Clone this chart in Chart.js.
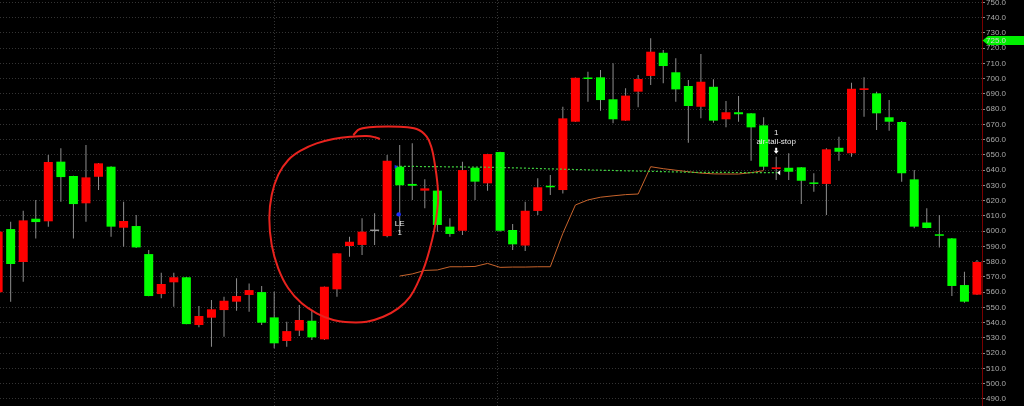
<!DOCTYPE html>
<html>
<head>
<meta charset="utf-8">
<script src="https://cdn.jsdelivr.net/npm/chart.js@4.4.1/dist/chart.umd.min.js"></script>
<style>
  html, body { margin: 0; padding: 0; background: #000; }
</style>
</head>
<body>
<canvas id="priceChart" width="1024" height="406"></canvas>
<script>
// bar data, one entry per candle (index 0 is cut by the left edge)
const opens = [560, 601.4, 579.8, 608.2, 606.5, 645.6, 636.2, 618.3, 635.7, 642.3,
  602.3, 603.4, 585.0, 558.8, 566.5, 569.8, 538.5, 543.3, 548.3, 553.8,
  558.2, 560.1, 543.5, 528.0, 534.8, 541.3, 529.1, 561.9, 590.3, 591.0,
  600.1, 596.8, 642.3, 631.0, 626.6, 626.6, 603.0, 600.3, 641.6, 631.4,
  651.9, 600.8, 590.6, 613.3, 629.8, 627.0, 671.8, 700.6, 700.9, 686.5,
  672.5, 691.5, 701.8, 717.0, 704.2, 695.2, 681.6, 694.7, 673.4, 678.0,
  677.3, 669.4, 640.8, 641.6, 641.9, 631.8, 631.0, 654.7, 651.1, 692.6,
  690.4, 674.7, 671.6, 634.0, 605.7, 598.0, 595.3, 564.7, 558.4];
const highs = [604.1, 606.2, 613.5, 620.5, 650.0, 654.4, 636.4, 656.5, 644.7, 642.6,
  619.3, 610.6, 587.7, 572.8, 572.8, 570.0, 550.9, 554.9, 557.0, 569.1,
  565.8, 564.1, 560.3, 540.7, 551.6, 548.3, 563.8, 585.7, 596.4, 608.5,
  611.7, 650.0, 656.5, 657.6, 634.0, 626.8, 608.5, 645.6, 641.8, 650.8,
  652.1, 604.7, 619.3, 634.7, 636.9, 681.6, 700.8, 704.6, 705.7, 710.1,
  693.7, 702.4, 726.5, 718.8, 713.4, 699.1, 716.2, 699.6, 685.4, 688.6,
  677.5, 674.7, 648.8, 651.1, 642.1, 638.0, 654.4, 662.0, 697.4, 700.9,
  691.5, 686.0, 672.3, 640.1, 615.0, 610.6, 595.5, 573.4, 581.1];
const lows = [554.9, 553.8, 566.9, 595.3, 602.9, 619.3, 595.3, 606.2, 627.0, 596.4,
  589.8, 589.0, 557.3, 556.0, 550.5, 539.0, 537.0, 524.3, 530.8, 547.9,
  547.2, 538.5, 523.2, 524.3, 531.3, 528.6, 528.6, 557.0, 583.3, 584.4,
  591.0, 596.0, 598.6, 620.5, 615.0, 599.7, 596.4, 597.5, 620.5, 626.6,
  599.7, 587.7, 587.0, 610.6, 623.7, 624.8, 671.6, 684.9, 679.0, 670.8,
  672.3, 681.2, 695.9, 697.0, 684.9, 658.0, 674.0, 671.1, 668.1, 671.8,
  646.2, 640.1, 633.6, 633.6, 617.8, 625.9, 610.6, 646.2, 648.8, 675.1,
  666.4, 665.9, 632.5, 601.9, 601.9, 589.4, 557.5, 553.1, 558.2];
const closes = [599.7, 578.5, 607.1, 606.0, 645.4, 635.5, 617.8, 635.3, 644.5, 603.0,
  606.7, 589.4, 557.5, 565.4, 569.8, 539.1, 544.4, 548.8, 554.4, 557.5,
  561.4, 540.0, 526.5, 534.5, 541.8, 530.4, 563.6, 585.5, 593.1, 599.7,
  600.1, 646.2, 630.1, 629.8, 628.1, 604.1, 598.2, 640.1, 632.5, 650.6,
  600.3, 591.4, 613.4, 628.8, 628.8, 674.0, 700.6, 699.8, 686.0, 673.4,
  688.9, 699.8, 717.7, 708.3, 693.0, 682.1, 698.0, 672.5, 678.0, 676.7,
  668.1, 642.3, 641.9, 639.0, 633.1, 631.0, 653.7, 652.1, 693.4, 693.7,
  677.3, 671.8, 638.0, 603.0, 602.1, 597.0, 564.1, 553.8, 579.8];

// trailing stop, per bar (empty before the entry)
const trailStop = [null, null, null, null, null, null, null, null, null, null,
  null, null, null, null, null, null, null, null, null, null,
  null, null, null, null, null, null, null, null, null, null,
  null, null, 570.6, 572.0, 574.3, 574.6, 576.7, 576.7, 576.9, 578.9,
  576.3, 576.5, 576.5, 576.7, 576.7, 598.6, 617.2, 620.5, 622.3, 623.2,
  624.0, 624.4, 642.3, 641.0, 640.0, 639.0, 638.1, 637.6, 637.5, 637.5,
  638.4, 639.7];

// entry price line (dotted)
const entryLineIdx = [31.7, 39.5, 47.5, 55.5, 62.1];
const entryLinePrice = [642.6, 641.9, 640.1, 638.6, 638.4];

const entryBar = 32;
const exitBar = 62;
const exitLevel = 638.4;
const lastPrice = 725;

const priceTicks = [490, 500, 510, 520, 530, 540, 550, 560, 570, 580, 590, 600, 610,
  620, 630, 640, 650, 660, 670, 680, 690, 700, 710, 720, 730, 740, 750];
const sessionBreaks = [22, 39.8];

// hand drawn loop, in bar index / price
const loopIdx = [30.43, 30.03, 29.37, 28.17, 26.71, 25.38, 24.19, 23.12, 22.32, 21.80,
  21.61, 21.80, 22.32, 23.12, 24.19, 25.38, 26.71, 28.04, 29.37, 30.69,
  31.88, 32.82, 33.48, 34.01, 34.41, 34.73, 34.94, 35.07, 34.99, 34.81,
  34.55, 34.15, 33.35, 32.02, 30.16, 28.83, 28.30];
const loopPrice = [660.5, 661.6, 662.4, 662.0, 660.5, 657.6, 653.2, 646.7, 636.9, 623.7,
  608.5, 591.0, 575.7, 562.6, 552.7, 546.2, 541.8, 540.3, 540.7, 543.9,
  549.4, 557.0, 566.9, 577.8, 588.8, 599.7, 610.6, 621.6, 632.5, 643.4,
  654.4, 662.0, 667.0, 668.5, 668.5, 667.0, 663.1];

const upColor = "#ff0000";
const downColor = "#00ff00";
const flatColor = "#9a9a9a";
const bodyColors = opens.map((o, i) =>
  closes[i] > o ? upColor : closes[i] < o ? downColor : flatColor);

const smallFont = '8px "Liberation Sans", Arial, sans-serif';

const overlay = {
  id: "overlay",
  afterDraw(chart) {
    const { ctx, scales: { x, y } } = chart;
    ctx.save();
    ctx.font = smallFont;
    ctx.textAlign = "center";
    ctx.textBaseline = "middle";

    // entry marks
    const lx = x.getPixelForValue(entryBar);
    const dotY = y.getPixelForValue(lows[entryBar]) - 19;
    ctx.fillStyle = "#1c2cff";
    ctx.beginPath();
    ctx.arc(lx - 1, dotY, 2.2, 0, Math.PI * 2);
    ctx.fill();
    const ty = y.getPixelForValue(opens[entryBar]);
    ctx.beginPath();
    ctx.moveTo(lx - 5, ty - 2);
    ctx.lineTo(lx - 2, ty);
    ctx.lineTo(lx - 5, ty + 2);
    ctx.fill();
    ctx.fillStyle = "#e8e8e8";
    ctx.fillText("LE", lx, dotY + 9);
    ctx.fillText("1", lx, dotY + 18);

    // exit marks
    const ex = x.getPixelForValue(exitBar);
    const hy = y.getPixelForValue(highs[exitBar]);
    ctx.fillText("1", ex, hy - 24);
    ctx.fillText("air-tail-stop", ex, hy - 15);
    ctx.fillStyle = "#ffffff";
    ctx.fillRect(ex - 1, hy - 9, 2, 3);
    ctx.beginPath();
    ctx.moveTo(ex - 2.5, hy - 6);
    ctx.lineTo(ex + 2.5, hy - 6);
    ctx.lineTo(ex, hy - 3);
    ctx.fill();
    const ly = y.getPixelForValue(exitLevel);
    ctx.beginPath();
    ctx.moveTo(ex + 1, ly);
    ctx.lineTo(ex + 4, ly - 2.5);
    ctx.lineTo(ex + 4, ly + 2.5);
    ctx.fill();

    // last price tag on the axis
    const py = y.getPixelForValue(lastPrice);
    const ax = y.left;
    ctx.fillStyle = "#00f000";
    ctx.beginPath();
    ctx.moveTo(ax + 0.5, py);
    ctx.lineTo(ax + 6, py - 4.5);
    ctx.lineTo(chart.width, py - 4.5);
    ctx.lineTo(chart.width, py + 4.5);
    ctx.lineTo(ax + 6, py + 4.5);
    ctx.closePath();
    ctx.fill();
    ctx.fillStyle = "#d4d4d4";
    ctx.textAlign = "left";
    ctx.fillText(lastPrice.toFixed(1), ax + 4, py + 0.5);
    ctx.restore();
  },
};

new Chart(document.getElementById("priceChart"), {
  type: "bar",
  data: {
    datasets: [
      {
        type: "line",
        label: "loop",
        data: loopIdx.map((v, i) => ({ x: v, y: loopPrice[i] })),
        borderColor: "#e8231e",
        borderWidth: 2,
        tension: 0.4,
        pointRadius: 0,
        order: -1,
      },
      {
        type: "line",
        label: "entry",
        data: entryLineIdx.map((v, i) => ({ x: v, y: entryLinePrice[i] })),
        borderColor: "#3fcf3f",
        borderDash: [2, 2],
        borderWidth: 1.2,
        pointRadius: 0,
        order: 0,
      },
      {
        type: "line",
        label: "trail stop",
        data: trailStop.map((v, i) => ({ x: i, y: v })),
        borderColor: "#c8642c",
        borderWidth: 1,
        pointRadius: 0,
        order: 1,
      },
      {
        label: "body",
        data: opens.map((o, i) => ({ x: i, y: [o, closes[i]] })),
        backgroundColor: bodyColors,
        grouped: false,
        maxBarThickness: 9,
        minBarLength: 1.5,
        order: 2,
      },
      {
        label: "wick",
        data: highs.map((h, i) => ({ x: i, y: [lows[i], h] })),
        backgroundColor: "#8e8e8e",
        grouped: false,
        maxBarThickness: 1,
        inflateAmount: 0,
        order: 3,
      },
    ],
  },
  options: {
    responsive: false,
    animation: false,
    layout: { padding: 0 },
    plugins: {
      legend: { display: false },
      tooltip: { enabled: false },
    },
    scales: {
      x: {
        type: "linear",
        min: 0.15,
        max: 78.4,
        offset: false,
        ticks: { display: false },
        grid: { color: "#343434", drawTicks: false, offset: false },
        border: { display: false, dash: [1, 2] },
        afterBuildTicks: (s) => { s.ticks = sessionBreaks.map((v) => ({ value: v })); },
        afterFit: (s) => { s.height = 0; s.paddingLeft = 0; s.paddingRight = 0; },
      },
      y: {
        position: "right",
        min: 485.4,
        max: 751.6,
        afterBuildTicks: (s) => { s.ticks = priceTicks.map((v) => ({ value: v })); },
        ticks: {
          color: "#a8a8a8",
          font: { family: '"Liberation Sans", Arial, sans-serif', size: 8 },
          padding: 1,
          autoSkip: false,
          callback: (v) => Number(v).toFixed(1),
        },
        grid: { color: "#343434", tickColor: "#8a8a8a", tickLength: 3 },
        border: { color: "#7a0000", dash: [1, 2] },
        afterFit: (s) => { s.width = 42; s.paddingTop = 0; s.paddingBottom = 0; },
      },
    },
  },
  plugins: [overlay],
});
</script>
</body>
</html>
